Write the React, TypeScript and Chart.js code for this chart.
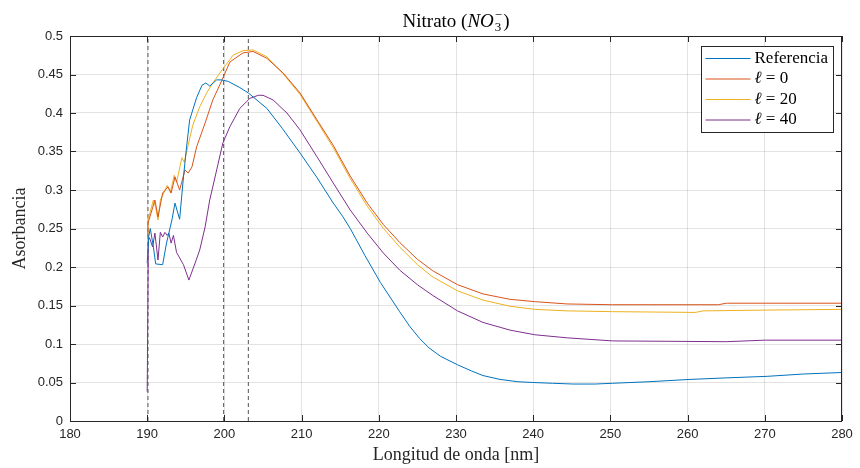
import React, { useEffect, useRef } from 'react';
import { Chart, registerables } from 'chart.js';
Chart.register(...registerables);

// ---- data ----
const refWl = [190.0, 190.2, 190.4, 190.8, 191.1, 192.0, 192.5, 193.2, 193.6, 194.2, 194.7, 195.1, 195.5, 196.4, 197.1, 197.6, 198.1, 199.0, 199.6, 200.5, 202.0, 203.1, 205.5, 207.5, 209.8, 212.0, 214.1, 215.3, 216.3, 218.2, 220.2, 222.7, 224.0, 225.3, 226.5, 228.0, 230.2, 232.0, 233.5, 235.7, 238.0, 240.0, 242.5, 245.2, 248.0, 250.3, 255.0, 260.3, 265.0, 270.3, 275.0, 280.0];
const refAbs = [0.205, 0.24, 0.25, 0.226, 0.204, 0.203, 0.231, 0.261, 0.283, 0.262, 0.317, 0.356, 0.391, 0.42, 0.436, 0.439, 0.435, 0.443, 0.443, 0.441, 0.433, 0.426, 0.406, 0.38, 0.348, 0.316, 0.283, 0.266, 0.25, 0.215, 0.18, 0.142, 0.123, 0.107, 0.095, 0.084, 0.073, 0.065, 0.059, 0.054, 0.051, 0.05, 0.049, 0.048, 0.048, 0.049, 0.051, 0.054, 0.056, 0.058, 0.061, 0.063];

const l0Wl = [190.0, 190.1, 190.5, 191.0, 191.4, 192.0, 192.7, 193.1, 193.6, 194.2, 194.9, 195.3, 195.8, 196.4, 197.5, 198.5, 199.7, 200.7, 201.1, 202.4, 203.7, 205.5, 207.6, 209.8, 212.0, 214.1, 216.3, 218.5, 220.6, 222.7, 225.0, 227.0, 230.2, 233.5, 237.0, 240.2, 244.4, 250.3, 264.0, 265.0, 280.0];
const l0Abs = [0.24, 0.257, 0.27, 0.287, 0.265, 0.296, 0.304, 0.296, 0.317, 0.3, 0.326, 0.322, 0.33, 0.356, 0.387, 0.417, 0.443, 0.466, 0.469, 0.478, 0.48, 0.471, 0.452, 0.426, 0.391, 0.358, 0.318, 0.283, 0.255, 0.232, 0.21, 0.195, 0.177, 0.165, 0.158, 0.155, 0.152, 0.151, 0.151, 0.153, 0.153];

const l20Wl = [190.0, 190.1, 190.8, 191.1, 191.4, 191.7, 192.0, 192.6, 193.0, 193.5, 193.8, 194.5, 194.8, 195.3, 195.9, 196.8, 197.7, 198.5, 199.7, 200.7, 201.1, 202.4, 203.7, 205.5, 207.6, 209.8, 212.0, 214.1, 216.3, 218.5, 220.6, 222.7, 225.0, 227.0, 230.2, 233.5, 237.0, 240.2, 244.4, 250.3, 261.0, 262.0, 270.0, 280.0];
const l20Abs = [0.235, 0.261, 0.287, 0.277, 0.261, 0.287, 0.293, 0.306, 0.297, 0.319, 0.31, 0.342, 0.336, 0.358, 0.384, 0.408, 0.426, 0.439, 0.456, 0.469, 0.475, 0.481, 0.482, 0.473, 0.451, 0.424, 0.389, 0.355, 0.315, 0.279, 0.25, 0.226, 0.203, 0.187, 0.169, 0.157, 0.149, 0.145, 0.143, 0.142, 0.141, 0.143, 0.144, 0.145];

const l40Wl = [190.0, 190.15, 190.3, 190.7, 191.0, 191.4, 191.7, 192.0, 192.3, 192.6, 192.8, 193.1, 193.4, 193.8, 194.7, 195.4, 196.2, 196.8, 197.5, 198.1, 199.0, 199.8, 200.7, 202.0, 203.3, 204.4, 205.0, 206.3, 208.1, 209.8, 212.0, 214.1, 216.3, 218.5, 220.6, 222.7, 225.0, 227.0, 230.2, 233.5, 237.0, 240.2, 244.4, 250.3, 265.0, 270.0, 280.0];
const l40Abs = [0.038, 0.235, 0.238, 0.226, 0.244, 0.209, 0.245, 0.239, 0.245, 0.241, 0.244, 0.231, 0.241, 0.219, 0.203, 0.183, 0.205, 0.222, 0.252, 0.287, 0.326, 0.361, 0.382, 0.406, 0.419, 0.423, 0.423, 0.417, 0.4, 0.378, 0.343, 0.309, 0.274, 0.244, 0.218, 0.196, 0.177, 0.163, 0.143, 0.128, 0.118, 0.112, 0.108, 0.104, 0.103, 0.105, 0.105];

const markerWl = [190.1, 199.9, 203.1];

const seriesLabels = ['Referencia', 'ℓ = 0', 'ℓ = 20', 'ℓ = 40'];
const seriesColors = ['#0072BD', '#D95319', '#EDB120', '#7E2F8E'];

const xMin = 180, xMax = 280, xStep = 10;
const yMin = 0, yMax = 0.5, yStep = 0.05;

const SERIF = '"Liberation Serif", "Times New Roman", serif';
const SANS = '"Liberation Sans", Arial, sans-serif';
const AXIS = '#262626';

const toPts = (xs: number[], ys: number[]) => xs.map((x, i) => ({ x, y: ys[i] }));

const boxPlugin = {
  id: 'boxPlugin',
  afterDraw(chart: any) {
    const { ctx, chartArea: a, scales } = chart;
    ctx.save();
    // border
    ctx.strokeStyle = AXIS;
    ctx.lineWidth = 1;
    ctx.strokeRect(Math.round(a.left) + 0.5, Math.round(a.top) + 0.5, Math.round(a.right - a.left) - 1, Math.round(a.bottom - a.top));
    // inner ticks
    const tl = 6;
    ctx.beginPath();
    for (let v = xMin; v <= xMax + 1e-9; v += xStep) {
      const px = Math.round(scales.x.getPixelForValue(v)) + 0.5;
      ctx.moveTo(px, a.bottom); ctx.lineTo(px, a.bottom - tl);
      ctx.moveTo(px, a.top); ctx.lineTo(px, a.top + tl);
    }
    for (let i = 0; i <= Math.round((yMax - yMin) / yStep); i++) {
      const py = Math.round(scales.y.getPixelForValue(yMin + i * yStep)) + 0.5;
      ctx.moveTo(a.left, py); ctx.lineTo(a.left + tl, py);
      ctx.moveTo(a.right, py); ctx.lineTo(a.right - tl, py);
    }
    ctx.stroke();

    // legend
    const bw = 132, bh = 86;
    const bx = Math.round(a.right) - 9 - bw + 0.5;
    const by = Math.round(a.top) + 10 + 0.5;
    ctx.fillStyle = '#ffffff';
    ctx.fillRect(bx, by, bw, bh);
    ctx.strokeStyle = AXIS;
    ctx.lineWidth = 1;
    ctx.strokeRect(bx, by, bw, bh);
    ctx.textBaseline = 'middle';
    ctx.textAlign = 'left';
    seriesLabels.forEach((lab, i) => {
      const yy = by + 12 + i * 20.5;
      ctx.strokeStyle = seriesColors[i];
      ctx.lineWidth = 1;
      ctx.beginPath();
      ctx.moveTo(bx + 4, yy); ctx.lineTo(bx + 49, yy);
      ctx.stroke();
      ctx.fillStyle = '#000';
      if (i === 0) {
        ctx.font = `17px ${SERIF}`;
        ctx.fillText(lab, bx + 53, yy);
      } else {
        const parts = lab.split(' = ');
        ctx.font = `italic 17px ${SERIF}`;
        ctx.fillText(parts[0], bx + 53, yy);
        const w = ctx.measureText(parts[0]).width;
        ctx.font = `17px ${SERIF}`;
        ctx.fillText(' = ' + parts[1], bx + 53 + w, yy);
      }
    });

    // title
    const cx = (a.left + a.right) / 2;
    const base = 27;
    const f1 = `19px ${SERIF}`, f2 = `italic 19px ${SERIF}`, f3 = `13px ${SERIF}`;
    ctx.fillStyle = '#000';
    ctx.textBaseline = 'alphabetic';
    ctx.font = f1; const w1 = ctx.measureText('Nitrato (').width;
    ctx.font = f2; const w2 = ctx.measureText('NO').width;
    ctx.font = f3; const w3 = Math.max(ctx.measureText('3').width, ctx.measureText('−').width);
    ctx.font = f1; const w4 = ctx.measureText(')').width;
    let x0 = cx - (w1 + w2 + w3 + 2 + w4) / 2;
    ctx.font = f1; ctx.fillText('Nitrato (', x0, base); x0 += w1;
    ctx.font = f2; ctx.fillText('NO', x0, base); x0 += w2;
    ctx.font = f3; ctx.fillText('3', x0 + 1, base + 4); ctx.fillText('−', x0 + 1, base - 8); x0 += w3 + 2;
    ctx.font = f1; ctx.fillText(')', x0, base);
    ctx.restore();
  },
};

export default function App() {
  const ref = useRef<HTMLCanvasElement | null>(null);
  useEffect(() => {
    if (!ref.current) return;
    const seriesData = [toPts(refWl, refAbs), toPts(l0Wl, l0Abs), toPts(l20Wl, l20Abs), toPts(l40Wl, l40Abs)];
    const datasets: any[] = seriesData.map((d, i) => ({
      label: seriesLabels[i],
      data: d,
      borderColor: seriesColors[i],
      borderWidth: 1,
      pointRadius: 0,
      fill: false,
      tension: 0,
    }));
    markerWl.forEach((w) => {
      datasets.push({
        label: 'marker',
        data: [{ x: w, y: yMin }, { x: w, y: yMax }],
        borderColor: '#555555',
        borderWidth: 1,
        borderDash: [4, 3],
        pointRadius: 0,
        fill: false,
      });
    });
    const chart = new Chart(ref.current, {
      type: 'line',
      data: { datasets },
      plugins: [boxPlugin],
      options: {
        animation: false,
        responsive: false,
        devicePixelRatio: 1,
        layout: { padding: { top: 36, right: 18, left: 0, bottom: 0 } },
        plugins: { legend: { display: false }, tooltip: { enabled: false }, title: { display: false } },
        scales: {
          x: {
            type: 'linear',
            min: xMin, max: xMax,
            ticks: { stepSize: xStep, color: AXIS, font: { family: SANS, size: 13 }, padding: 6, maxRotation: 0 },
            grid: { color: 'rgba(38,38,38,0.13)', drawTicks: false },
            border: { display: false },
            title: { display: true, text: 'Longitud de onda [nm]', color: AXIS, font: { family: SERIF, size: 18 }, padding: { top: 0, bottom: 2 } },
            afterFit: (s: any) => { s.height = 47; },
          },
          y: {
            type: 'linear',
            min: yMin, max: yMax,
            ticks: {
              stepSize: yStep, color: AXIS, font: { family: SANS, size: 13 }, padding: 7,
              callback: (v: any) => String(parseFloat(Number(v).toFixed(2))),
            },
            grid: { color: 'rgba(38,38,38,0.13)', drawTicks: false },
            border: { display: false },
            title: { display: true, text: 'Asorbancia', color: AXIS, font: { family: SERIF, size: 18 }, padding: { top: 9, bottom: 0 } },
            afterFit: (s: any) => { s.width = 70; },
          },
        },
      } as any,
    });
    return () => chart.destroy();
  }, []);
  return (
    <div style={{ position: 'fixed', left: 0, top: 0, width: 860, height: 468, background: '#fff' }}>
      <canvas ref={ref} width={860} height={468} style={{ width: 860, height: 468, display: 'block' }} />
    </div>
  );
}
